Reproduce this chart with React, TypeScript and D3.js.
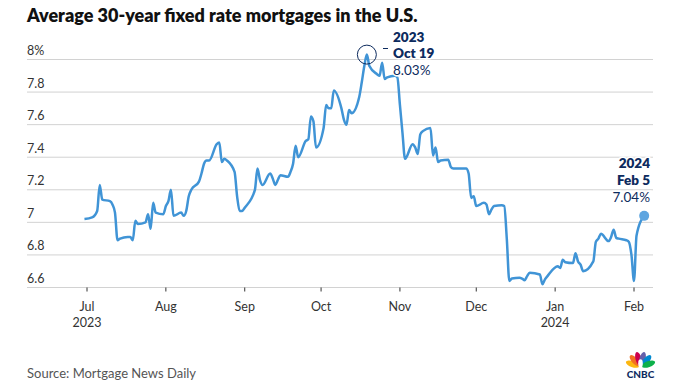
import React, { useEffect } from "react";
import * as d3 from "d3";

const dates: string[] = [
  "2023-06-30","2023-07-03","2023-07-05","2023-07-06","2023-07-07","2023-07-10","2023-07-11","2023-07-12","2023-07-13","2023-07-14",
  "2023-07-17","2023-07-18","2023-07-19","2023-07-20","2023-07-21","2023-07-24","2023-07-25","2023-07-26","2023-07-27","2023-07-28",
  "2023-07-31","2023-08-01","2023-08-02","2023-08-03","2023-08-04","2023-08-07","2023-08-08","2023-08-09","2023-08-10","2023-08-11",
  "2023-08-14","2023-08-15","2023-08-16","2023-08-17","2023-08-18","2023-08-21","2023-08-22","2023-08-23","2023-08-24","2023-08-25",
  "2023-08-28","2023-08-29","2023-08-30","2023-08-31","2023-09-01","2023-09-05","2023-09-06","2023-09-07","2023-09-08","2023-09-11",
  "2023-09-12","2023-09-13","2023-09-14","2023-09-15","2023-09-18","2023-09-19","2023-09-20","2023-09-21","2023-09-22","2023-09-25",
  "2023-09-26","2023-09-27","2023-09-28","2023-09-29","2023-10-02","2023-10-03","2023-10-04","2023-10-05","2023-10-06","2023-10-09",
  "2023-10-10","2023-10-11","2023-10-12","2023-10-13","2023-10-16","2023-10-17","2023-10-18","2023-10-19","2023-10-20","2023-10-23",
  "2023-10-24","2023-10-25","2023-10-26","2023-10-27","2023-10-30","2023-10-31","2023-11-01","2023-11-02","2023-11-03","2023-11-06",
  "2023-11-07","2023-11-08","2023-11-09","2023-11-10","2023-11-13","2023-11-14","2023-11-15","2023-11-16","2023-11-17","2023-11-20",
  "2023-11-21","2023-11-22","2023-11-24","2023-11-27","2023-11-28","2023-11-29","2023-11-30","2023-12-01","2023-12-04","2023-12-05",
  "2023-12-06","2023-12-07","2023-12-08","2023-12-11","2023-12-12","2023-12-13","2023-12-14","2023-12-15","2023-12-18","2023-12-19",
  "2023-12-20","2023-12-21","2023-12-22","2023-12-26","2023-12-27","2023-12-28","2023-12-29","2024-01-02","2024-01-03","2024-01-04",
  "2024-01-05","2024-01-08","2024-01-09","2024-01-10","2024-01-11","2024-01-12","2024-01-16","2024-01-17","2024-01-18","2024-01-19",
  "2024-01-22","2024-01-23","2024-01-24","2024-01-25","2024-01-26","2024-01-29","2024-01-30","2024-01-31","2024-02-01","2024-02-02",
  "2024-02-05",
];

const rates: number[] = [
  7.02,7.03,7.07,7.23,7.14,7.13,7.11,7.06,6.89,6.90,
  6.91,6.91,6.89,7.01,6.99,7.00,7.05,6.96,7.12,7.06,
  7.05,7.10,7.13,7.20,7.04,7.06,7.04,7.07,7.16,7.20,
  7.25,7.30,7.36,7.38,7.38,7.48,7.49,7.37,7.39,7.38,
  7.31,7.16,7.07,7.07,7.09,7.20,7.33,7.26,7.23,7.30,
  7.27,7.23,7.26,7.29,7.28,7.31,7.36,7.47,7.40,7.50,
  7.51,7.65,7.62,7.46,7.58,7.72,7.70,7.70,7.81,7.70,
  7.63,7.60,7.69,7.67,7.77,7.86,7.96,8.03,7.96,7.91,
  7.90,7.98,7.88,7.89,7.90,7.89,7.72,7.55,7.39,7.48,
  7.46,7.42,7.54,7.56,7.58,7.41,7.46,7.37,7.38,7.385,
  7.34,7.33,7.33,7.33,7.30,7.15,7.16,7.10,7.12,7.11,
  7.05,7.08,7.10,7.105,7.10,6.90,6.64,6.655,6.66,6.655,
  6.645,6.67,6.69,6.68,6.62,6.65,6.67,6.73,6.72,6.77,
  6.755,6.75,6.81,6.76,6.74,6.70,6.76,6.88,6.90,6.93,
  6.885,6.91,6.955,6.905,6.90,6.89,6.88,6.80,6.64,6.92,
  7.04,
];

const yTicks: number[] = [6.6, 6.8, 7, 7.2, 7.4, 7.6, 7.8, 8];
const yTickLabels: string[] = ["6.6", "6.8", "7", "7.2", "7.4", "7.6", "7.8", "8%"];
const xTickDates: string[] = ["2023-07-01","2023-08-01","2023-09-01","2023-10-01","2023-11-01","2023-12-01","2024-01-01","2024-02-01"];
const xTickLabels: string[] = ["Jul","Aug","Sep","Oct","Nov","Dec","Jan","Feb"];
const xTickYears: string[] = ["2023","","","","","","2024",""];

const peakDate = "2023-10-19";
const peakValue = 8.03;
const peakLines: string[] = ["2023", "Oct 19", "8.03%"];
const lastDate = "2024-02-05";
const lastValue = 7.04;
const lastLines: string[] = ["2024", "Feb 5", "7.04%"];

const title = "Average 30-year fixed rate mortgages in the U.S.";
const source = "Source: Mortgage News Daily";

const W = 675;
const H = 386;
const FONT = "Lato, 'Open Sans', sans-serif";
const NAVY = "#0d2b5e";
const LINE = "#4094d6";

const parse = d3.timeParse("%Y-%m-%d");

export default function App() {
  useEffect(() => {
    document.body.style.margin = "0";
  }, []);

  const x = d3
    .scaleTime()
    .domain([parse("2023-07-01") as Date, parse("2024-02-01") as Date])
    .range([87, 634]);
  const y = d3.scaleLinear().domain([6.6, 8]).range([287.5, 59.5]);

  const data = dates.map((d, i) => ({ date: parse(d) as Date, v: rates[i] }));
  const line = d3
    .line<{ date: Date; v: number }>()
    .x((d) => x(d.date))
    .y((d) => y(d.v))
    .curve(d3.curveMonotoneX);

  const px = x(parse(peakDate) as Date);
  const py = y(peakValue);
  const lx = x(parse(lastDate) as Date);
  const ly = y(lastValue);

  const feathers = [
    { c: "#fcb711", a: -70 },
    { c: "#f37021", a: -42 },
    { c: "#cc004c", a: -14 },
    { c: "#6460aa", a: 14 },
    { c: "#0089d0", a: 42 },
    { c: "#0db14b", a: 70 },
  ];

  return (
    <svg width={W} height={H} style={{ display: "block", background: "#fff" }} fontFamily={FONT}>
      <text x={27} y={21.5} fontSize={18} fontWeight={800} fill="#111">
        {title}
      </text>

      {yTicks.map((t, i) => (
        <g key={t}>
          <line x1={27} x2={653} y1={y(t)} y2={y(t)} stroke="#d2d2d2" strokeWidth={1} />
          <text x={27} y={y(t) - 4.5} fontSize={12.5} fill="#333">
            {yTickLabels[i]}
          </text>
        </g>
      ))}

      {xTickDates.map((d, i) => {
        const tx = x(parse(d) as Date);
        return (
          <g key={d}>
            <line x1={tx} x2={tx} y1={287.5} y2={291.5} stroke="#333" strokeWidth={1} />
            <text x={tx} y={311} fontSize={12.5} fill="#333" textAnchor="middle">
              {xTickLabels[i]}
            </text>
            {xTickYears[i] && (
              <text x={tx} y={327} fontSize={12.5} fill="#333" textAnchor="middle">
                {xTickYears[i]}
              </text>
            )}
          </g>
        );
      })}

      <path d={line(data) || ""} fill="none" stroke={LINE} strokeWidth={2.5} strokeLinejoin="round" />

      <circle cx={px} cy={py} r={9.5} fill="none" stroke={NAVY} strokeWidth={1} />
      <line x1={383} x2={388} y1={48.5} y2={48.5} stroke={NAVY} strokeWidth={1} />
      {peakLines.map((s, i) => (
        <text
          key={s}
          x={393}
          y={41.5 + i * 16.7}
          fontSize={13.5}
          fontWeight={i < 2 ? 800 : 400}
          fill={NAVY}
          stroke="#fff"
          strokeWidth={3}
          paintOrder="stroke"
        >
          {s}
        </text>
      ))}

      <circle cx={lx} cy={ly} r={5} fill="#5ea5e0" />
      {lastLines.map((s, i) => (
        <text
          key={s}
          x={650}
          y={167.5 + i * 17}
          fontSize={13.5}
          fontWeight={i < 2 ? 800 : 400}
          fill={NAVY}
          textAnchor="end"
          stroke="#fff"
          strokeWidth={3}
          paintOrder="stroke"
        >
          {s}
        </text>
      ))}

      <text x={27} y={378} fontSize={13} fill="#555">
        {source}
      </text>

      <g>
        {feathers.map((f) => (
          <ellipse
            key={f.c}
            cx={0}
            cy={-8.5}
            rx={3}
            ry={7}
            fill={f.c}
            transform={`translate(640.5,367) rotate(${f.a})`}
          />
        ))}
        <ellipse cx={640.5} cy={363.5} rx={2.3} ry={4.2} fill="#fff" />
        <text x={640.5} y={377.5} fontSize={10} fontWeight={900} fill={NAVY} textAnchor="middle">
          CNBC
        </text>
      </g>
    </svg>
  );
}
